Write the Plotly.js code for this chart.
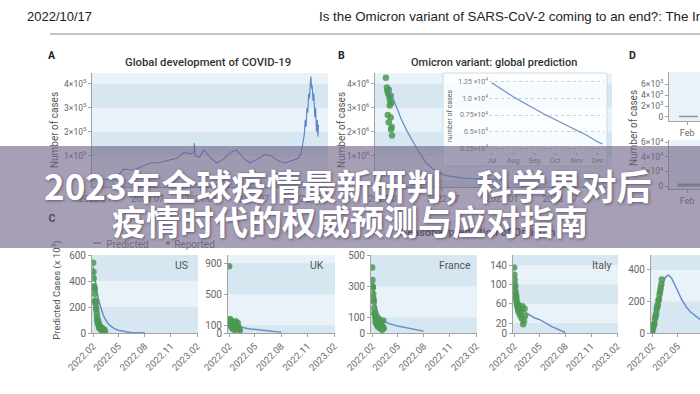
<!DOCTYPE html>
<html><head><meta charset="utf-8">
<script src="https://cdn.plot.ly/plotly-3.0.1.min.js"></script>
<style>html,body{margin:0;padding:0;background:#fff;overflow:hidden}#chart{width:700px;height:394px}</style>
</head><body><div id="chart"></div>
<script>
// ---------- DATA ----------
const globalDates = ['2020-01-15','2020-02-15','2020-03-15','2020-04-10','2020-05-10','2020-06-10','2020-07-10','2020-08-10','2020-09-10','2020-10-10','2020-11-05','2020-11-25','2020-12-08','2020-12-10','2020-12-12','2020-12-28','2021-01-12','2021-02-05','2021-02-25','2021-03-20','2021-04-15','2021-05-05','2021-05-30','2021-06-20','2021-07-15','2021-08-10','2021-09-01','2021-09-25','2021-10-20','2021-11-15','2021-12-05','2021-12-15','2021-12-22','2021-12-26','2021-12-29','2022-01-01','2022-01-04','2022-01-07','2022-01-10','2022-01-13','2022-01-16','2022-01-18','2022-01-20','2022-01-22','2022-01-25','2022-01-28','2022-01-31','2022-02-03','2022-02-06','2022-02-09','2022-02-11','2022-02-13'];
const globalCases = [500,2500,12000,45000,40000,55000,70000,72000,80000,90000,115000,108000,112000,152000,100000,95000,125000,90000,70000,85000,115000,125000,90000,70000,85000,105000,100000,80000,70000,80000,90000,110000,160000,190000,250000,220000,300000,280000,360000,340000,410000,430000,380000,395000,330000,360000,260000,300000,200000,250000,180000,230000];
const globalTickDates = ['2020-01-01','2020-07-01','2021-01-01','2021-07-01','2022-01-01'];
const globalTickText = ['2020.01','2020.07','2021.01','2021.07','2022.01'];
const casesTickVals5 = [100000,200000,300000,400000];
const casesTickText5 = ['1×10<sup>5</sup>','2×10<sup>5</sup>','3×10<sup>5</sup>','4×10<sup>5</sup>'];

const omiRepDates = ['2022-01-04','2022-01-07','2022-01-09','2022-01-10','2022-01-11','2022-01-13','2022-01-13','2022-01-15','2022-01-16','2022-01-17','2022-01-19','2022-01-19','2022-01-20','2022-01-21','2022-01-22','2022-01-23'];
const omiRep = [4250000,3850000,3700000,2700000,3600000,3750000,2400000,3450000,3100000,3300000,3500000,2600000,2100000,3200000,2200000,1850000];
const omiPredDates = ['2022-01-16','2022-02-01','2022-02-20','2022-03-10','2022-03-25','2022-04-15','2022-05-10','2022-06-10','2022-07-10','2022-09-01','2022-11-01','2022-12-31'];
const omiPred = [3750000,3200000,2550000,2050000,1700000,1200000,700000,350000,170000,70000,30000,15000];
const omiTickDates = ['2022-01-01','2022-07-01','2023-01-01','2023-07-01'];
const omiTickText = ['2022.01','2022.07','2023.01','2023. 07'];
const casesTickVals6 = [1000000,2000000,3000000,4000000];
const casesTickText6 = ['1×10<sup>6</sup>','2×10<sup>6</sup>','3×10<sup>6</sup>','4×10<sup>6</sup>'];

const insetDates = ['2022-07-01','2022-07-15','2022-08-01','2022-08-15','2022-09-01','2022-09-15','2022-10-01','2022-10-15','2022-11-01','2022-11-15','2022-12-01','2022-12-08'];
const insetCases = [12300,11300,10200,9400,8400,7600,6800,6100,5200,4500,3500,3200];
const insetTickDates = ['2022-07-01','2022-08-01','2022-09-01','2022-10-01','2022-11-01','2022-12-01'];
const insetTickText = ['Jul','Aug','Sep','Oct','Nov','Dec'];
const insetTickVals = [2500,5000,7500,10000,12500];
const insetTickText4 = ['0.25×10<sup>4</sup>','0.5×10<sup>4</sup>','0.75×10<sup>4</sup>','1.0 ×10<sup>4</sup>','1.25 ×10<sup>4</sup>'];

const dTopDates = ['2022-01-20','2022-01-27','2022-02-03','2022-02-10','2022-02-17'];
const dTopCases = [80,120,150,110,90];
const dBotDates = ['2022-01-18','2022-01-25','2022-02-01','2022-02-08','2022-02-15','2022-02-20'];
const dBotCases = [1500,1600,1400,1500,1300,1400];
const dTickDates = ['2022-02-01'];
const dTickText = ['Feb'];
const dTopTickVals = [0,2000,4000,6000];
const dTopTickText = ['0','2×10<sup>3</sup>','4×10<sup>3</sup>','6×10<sup>3</sup>'];
const dBotTickVals = [0,20000,40000,60000];
const dBotTickText = ['0','2×10<sup>4</sup>','4×10<sup>4</sup>','6×10<sup>4</sup>'];

const countryTickDates = ['2022-02-01','2022-05-01','2022-08-01','2022-11-01','2023-02-01'];
const countryTickText = ['2022.02','2022.05','2022.08','2022.11','2023.02'];

const usPredDates = ['2022-02-01','2022-02-08','2022-02-15','2022-02-22','2022-03-01','2022-03-08','2022-03-15','2022-03-22','2022-04-01','2022-04-15','2022-05-01','2022-05-15','2022-06-01','2022-06-15','2022-07-01','2022-08-01'];
const usPred = [510,400,310,240,185,140,108,82,58,36,21,13,7,4,2,1];
const usRepDates = ['2022-02-01','2022-02-02','2022-02-03','2022-02-04','2022-02-05','2022-02-06','2022-02-07','2022-02-08','2022-02-09','2022-02-10','2022-02-11','2022-02-12','2022-02-14','2022-02-15','2022-02-16','2022-02-17','2022-02-18','2022-02-20','2022-02-21','2022-02-22','2022-02-24','2022-02-25','2022-02-27','2022-03-01','2022-03-03','2022-03-05','2022-03-08','2022-03-10','2022-03-12','2022-03-15'];
const usRep = [540,470,420,360,350,340,300,250,230,240,200,180,150,120,90,100,70,80,60,40,55,35,45,25,40,20,30,15,25,10];
const usTicks = [0,200,400,600];

const ukPredDates = ['2022-02-01','2022-02-15','2022-03-01','2022-03-15','2022-04-01','2022-04-15','2022-05-01','2022-05-15','2022-06-01','2022-06-15','2022-07-01','2022-07-15','2022-08-01'];
const ukPred = [165,120,92,75,62,53,45,38,31,26,21,16,12];
const ukRepDates = ['2022-02-01','2022-02-03','2022-02-04','2022-02-05','2022-02-06','2022-02-07','2022-02-08','2022-02-09','2022-02-10','2022-02-11','2022-02-12','2022-02-14','2022-02-15','2022-02-16','2022-02-18','2022-02-20','2022-02-22','2022-02-24','2022-02-25','2022-02-27','2022-03-01','2022-03-03','2022-03-05','2022-03-08','2022-03-10'];
const ukRep = [860,150,180,120,100,160,90,130,70,110,60,80,140,50,90,40,70,150,120,100,60,130,80,50,30];
const ukTicks = [0,100,500,900];

const frPredDates = ['2022-02-01','2022-02-08','2022-02-15','2022-02-22','2022-03-01','2022-03-15','2022-04-01','2022-05-01','2022-06-01','2022-07-01','2022-08-01'];
const frPred = [330,230,165,125,100,75,60,45,33,22,12];
const frRepDates = ['2022-02-01','2022-02-02','2022-02-03','2022-02-04','2022-02-05','2022-02-06','2022-02-07','2022-02-08','2022-02-09','2022-02-10','2022-02-12','2022-02-13','2022-02-14','2022-02-16','2022-02-17','2022-02-19','2022-02-20','2022-02-22','2022-02-24','2022-02-26','2022-02-28','2022-03-02','2022-03-05','2022-03-08','2022-03-10','2022-03-12','2022-03-14'];
const frRep = [420,340,300,290,250,220,200,160,130,120,100,70,90,60,100,50,80,40,90,60,30,70,50,20,40,80,30];
const frTicks = [0,100,300,500];

const itPredDates = ['2022-02-01','2022-02-15','2022-03-01','2022-03-15','2022-04-01','2022-04-15','2022-05-01','2022-05-15','2022-06-01','2022-06-15','2022-07-01','2022-07-15','2022-08-01'];
const itPred = [100,65,50,42,36,31,28,24,18,13,9,5,1];
const itRepDates = ['2022-02-01','2022-02-02','2022-02-03','2022-02-04','2022-02-05','2022-02-06','2022-02-07','2022-02-08','2022-02-09','2022-02-10','2022-02-11','2022-02-12','2022-02-14','2022-02-15','2022-02-16','2022-02-18','2022-02-20','2022-02-22','2022-02-24','2022-02-26','2022-02-28','2022-03-02','2022-03-05','2022-03-08','2022-03-10','2022-03-12'];
const itRep = [135,120,110,100,95,85,80,70,75,65,60,55,60,50,45,55,40,50,35,45,30,55,18,25,50,35];
const itTicks = [0,20,60,100,140];

const c5PredDates = ['2022-02-01','2022-02-10','2022-02-20','2022-03-01','2022-03-10','2022-03-20','2022-03-30','2022-04-10','2022-04-20','2022-05-01','2022-05-15','2022-06-01','2022-06-15','2022-07-01','2022-07-15','2022-08-01'];
const c5Pred = [8,60,150,240,310,355,368,350,315,270,215,165,135,110,92,75];
const c5RepDates = ['2022-02-01','2022-02-03','2022-02-05','2022-02-07','2022-02-09','2022-02-11','2022-02-13','2022-02-15','2022-02-17','2022-02-19','2022-02-21','2022-02-23','2022-02-25','2022-02-27','2022-03-01','2022-03-03','2022-03-05','2022-03-07'];
const c5Rep = [5,20,35,50,60,90,105,120,150,165,180,205,215,245,265,285,310,340];
const c5Ticks = [0,200,400];

const countryNames = ['US','UK','France','Italy'];

// ---------- STYLE / LAYOUT ----------
const W = 700, H = 394;
const fx = p => p / W;
const fy = p => 1 - p / H;
const xd = (a, b) => [fx(a), fx(b)];
const yd = (top, bot) => [fy(bot), fy(top)];
const F = 'Roboto, "Liberation Sans", Arial, sans-serif';
const LIGHT = '#e9f2f8', DARK = '#d6e7f1';
const BLUE = '#6a8fc8', GREEN = 'rgba(76,152,82,0.85)';

function axis(o) {
  return Object.assign({showgrid:false, zeroline:false, showline:true, linecolor:'#a3a3a3', linewidth:1,
    ticks:'outside', ticklen:3, tickcolor:'#a3a3a3', tickfont:{family:F, size:9, color:'#6a6a6a'},
    fixedrange:true, tickmode:'array'}, o);
}

const layout = {width:W, height:H, margin:{l:0,r:0,t:0,b:0}, paper_bgcolor:'#ffffff',
  plot_bgcolor:'rgba(0,0,0,0)', showlegend:false, font:{family:F, color:'#555'}, shapes:[], annotations:[]};

// panel definitions (pixel geometry)
const panels = [
  {id:'', x:[92,328], y:[73,187], xr:['2019-12-21','2022-03-18'], yr:[-30000,445000], xtv:globalTickDates, xtt:globalTickText, ytv:casesTickVals5, ytt:casesTickText5, bands:[-30000,0,100000,200000,300000,400000,445000], fs:8.5},
  {id:'2', x:[375,612], y:[73,187], xr:['2021-12-01','2023-12-10'], yr:[-300000,4450000], xtv:omiTickDates, xtt:omiTickText, ytv:casesTickVals6, ytt:casesTickText6, bands:[-300000,0,1000000,2000000,3000000,4000000,4450000], fs:8.5},
  {id:'4', x:[669,700], y:[72,121], xr:['2022-01-05','2022-02-20'], yr:[-730,8200], xtv:dTickDates, xtt:dTickText, ytv:dTopTickVals, ytt:dTopTickText, bands:null, fs:8.5},
  {id:'5', x:[669,700], y:[140,189], xr:['2022-01-05','2022-02-20'], yr:[-4000,63000], xtv:dTickDates, xtt:dTickText, ytv:dBotTickVals, ytt:dBotTickText, bands:null, fs:8.5},
  {id:'6', x:[92,198], y:[255,333], xr:['2022-01-28','2023-02-04'], yr:[0,600], xtv:countryTickDates, xtt:countryTickText, ytv:usTicks, ytt:usTicks.map(String), bands:[0,200,400,600], fs:10, rot:true},
  {id:'7', x:[228,335], y:[255,333], xr:['2022-01-28','2023-02-04'], yr:[0,1005], xtv:countryTickDates, xtt:countryTickText, ytv:ukTicks, ytt:ukTicks.map(String), bands:[0,100,500,900,1005], fs:10, rot:true},
  {id:'8', x:[371,477], y:[255,333], xr:['2022-01-28','2023-02-04'], yr:[0,500], xtv:countryTickDates, xtt:countryTickText, ytv:frTicks, ytt:frTicks.map(String), bands:[0,100,300,500], fs:10, rot:true},
  {id:'9', x:[513,618], y:[255,333], xr:['2022-01-28','2023-02-04'], yr:[0,161], xtv:countryTickDates, xtt:countryTickText, ytv:itTicks, ytt:itTicks.map(String), bands:[0,20,60,100,140,161], fs:10, rot:true},
  {id:'10', x:[651,700], y:[255,333], xr:['2022-01-28','2022-07-19'], yr:[0,495], xtv:countryTickDates, xtt:countryTickText, ytv:c5Ticks, ytt:c5Ticks.map(String), bands:[0,200,400,495], fs:10, rot:true}
];

panels.forEach(p => {
  const xk = 'xaxis' + p.id, yk = 'yaxis' + p.id;
  layout[xk] = axis({domain:xd(p.x[0], p.x[1]), anchor:'y'+p.id, type:'date', range:p.xr, tickvals:p.xtv, ticktext:p.xtt,
    tickangle: p.rot ? -45 : 0, tickfont:{family:F, size: p.rot ? 9.5 : 9, color:'#6a6a6a'}});
  layout[yk] = axis({domain:yd(p.y[0], p.y[1]), anchor:'x'+p.id, range:p.yr, tickvals:p.ytv, ticktext:p.ytt,
    tickfont:{family:F, size:p.fs, color:'#666'}});
  layout.shapes.push({type:'rect', layer:'below', xref:'paper', yref:'paper', x0:fx(p.x[0]), x1:fx(p.x[1]), y0:fy(p.y[1]), y1:fy(p.y[0]), fillcolor:LIGHT, line:{width:0}});
  if (p.bands) {
    for (let i = 0; i < p.bands.length - 1; i++) {
      if (i % 2 === 0) layout.shapes.push({type:'rect', layer:'below', xref:'paper', yref:'y'+p.id, x0:fx(p.x[0]), x1:fx(p.x[1]), y0:p.bands[i], y1:p.bands[i+1], fillcolor:DARK, line:{width:0}});
    }
  }
});

// inset box + inset axes
layout.shapes.push({type:'rect', layer:'below', xref:'paper', yref:'paper', x0:fx(443), x1:fx(607), y0:fy(166), y1:fy(73), fillcolor:'rgba(255,255,255,0.82)', line:{color:'#c9dde8', width:1}});
layout.xaxis3 = axis({domain:xd(489,604), anchor:'y3', type:'date', range:['2022-06-27','2022-12-10'], tickvals:insetTickDates, ticktext:insetTickText, showline:false, ticklen:2, tickfont:{family:F, size:7, color:'#7a7a7a'}});
layout.yaxis3 = axis({domain:yd(78,152), anchor:'x3', range:[2000,13000], tickvals:insetTickVals, ticktext:insetTickText4, showline:false, ticks:'', showgrid:true, gridcolor:'#bcd3e2', griddash:'dot', gridwidth:1, tickfont:{family:F, size:7, color:'#7a7a7a'}});

// ---------- TRACES ----------
const line = (x, y, id, color, w) => ({type:'scatter', mode:'lines', x, y, xaxis:'x'+id, yaxis:'y'+id, line:{color, width:w}, hoverinfo:'skip'});
const dots = (x, y, id, s) => ({type:'scatter', mode:'markers', x, y, xaxis:'x'+id, yaxis:'y'+id, marker:{color:GREEN, size:s, line:{width:0}}, hoverinfo:'skip'});

const data = [
  line(globalDates, globalCases, '', '#5b84c4', 1.1),
  dots(omiRepDates, omiRep, '2', 6.5),
  line(omiPredDates, omiPred, '2', BLUE, 1.3),
  line(insetDates, insetCases, '3', BLUE, 1.2),
  line(dTopDates, dTopCases, '4', '#7fa38b', 1.5),
  line(dBotDates, dBotCases, '5', '#7fa38b', 3),
  line(usPredDates, usPred, '6', BLUE, 1.5), dots(usRepDates, usRep, '6', 6.5),
  line(ukPredDates, ukPred, '7', BLUE, 1.5), dots(ukRepDates, ukRep, '7', 6.5),
  line(frPredDates, frPred, '8', BLUE, 1.5), dots(frRepDates, frRep, '8', 6.5),
  line(itPredDates, itPred, '9', BLUE, 1.5), dots(itRepDates, itRep, '9', 6.5),
  line(c5PredDates, c5Pred, '10', BLUE, 1.5), dots(c5RepDates, c5Rep, '10', 6.5)
];

// ---------- TEXT ----------
const ann = (text, x, y, o) => Object.assign({text, x:fx(x), y:fy(y), xref:'paper', yref:'paper', showarrow:false, xanchor:'center', yanchor:'middle', font:{family:F, size:10, color:'#555'}}, o);
const A = layout.annotations;
const HF = '"Liberation Sans", Arial, sans-serif';
A.push(ann('2022/10/17', 25, 17, {xanchor:'left', font:{family:HF, size:13, color:'#222'}}));
A.push(ann('Is the Omicron variant of SARS-CoV-2 coming to an end?: The Ir', 317, 17, {xanchor:'left', font:{family:HF, size:13.3, color:'#222'}}));
A.push(ann('A', 52, 55, {font:{family:F, size:10.5, color:'#222', weight:'bold'}}));
A.push(ann('B', 341, 55, {font:{family:F, size:10.5, color:'#222', weight:'bold'}}));
A.push(ann('D', 632, 55, {font:{family:F, size:10.5, color:'#222', weight:'bold'}}));
A.push(ann('Global development of COVID-19', 208, 62, {font:{family:F, size:11.3, color:'#333', weight:500}}));
A.push(ann('Omicron variant: global prediction', 494, 62, {font:{family:F, size:11, color:'#333', weight:500}}));
A.push(ann('number of cases', 450, 116, {textangle:-90, font:{family:F, size:7, color:'#666'}}));
const countryLabelX = [190, 326, 473, 614];
countryNames.forEach((n, i) => A.push(ann(n, countryLabelX[i], 265, {xanchor:'right', font:{family:F, size:10.5, color:'#555'}})));

// texts lying under the banner: drawn as shape labels before the banner
const S = layout.shapes;
const lbl = (text, cx, cy, o) => ({type:'rect', layer:'above', xref:'paper', yref:'paper', x0:fx(cx-1), x1:fx(cx+1), y0:fy(cy+1), y1:fy(cy-1), fillcolor:'rgba(0,0,0,0)', line:{width:0},
  label:Object.assign({text, textposition:'middle center', padding:0, font:{family:F, size:10, color:'#555'}}, o)});
S.push(lbl('Number of cases', 53, 130, {textangle:-90}));
S.push(lbl('Number of cases', 340, 130, {textangle:-90}));
S.push(lbl('Number of cases', 632, 128, {textangle:-90}));
S.push(lbl('Predicted Cases (x 10<sup>3</sup>)', 57, 290, {textangle:-90, font:{family:F, size:9.5, color:'#555'}}));
S.push(lbl('C', 52, 218, {font:{family:F, size:10.5, color:'#222', weight:'bold'}}));
S.push(lbl('Seasonal prediction of Omicron', 478, 231, {font:{family:F, size:11, color:'#333', weight:500}}));
S.push({type:'line', layer:'above', xref:'paper', yref:'paper', x0:fx(93), x1:fx(101), y0:fy(243), y1:fy(243), line:{color:BLUE, width:1.5}});
S.push(lbl('Predicted', 127.5, 243, {font:{family:F, size:10, color:'#777'}}));
S.push({type:'circle', layer:'above', xref:'paper', yref:'paper', x0:fx(166), x1:fx(170), y0:fy(245), y1:fy(241), fillcolor:GREEN, line:{width:0}});
S.push(lbl('Reported', 194.5, 243, {font:{family:F, size:10, color:'#777'}}));

// header rule
S.push({type:'line', layer:'above', xref:'paper', yref:'paper', x0:fx(50), x1:1, y0:fy(34), y1:fy(34), line:{color:'#c4c4c4', width:2}});
// banner
S.push({type:'rect', layer:'above', xref:'paper', yref:'paper', x0:0, x1:1, y0:fy(248), y1:fy(146), fillcolor:'rgba(112,100,136,0.62)', line:{width:0}});

const CJK = '"Noto Sans CJK SC", "Noto Sans", sans-serif';
A.push(ann('2023年全球疫情最新研判，科学界对后', 348, 184, {font:{family:CJK, size:35, color:'#ffffff', weight:'bold', shadow:'1px 1px 3px rgba(50,40,70,0.6)'}}));
A.push(ann('疫情时代的权威预测与应对指南', 350, 221, {font:{family:CJK, size:34, color:'#ffffff', weight:'bold', shadow:'1px 1px 3px rgba(50,40,70,0.6)'}}));

Plotly.newPlot('chart', data, layout, {staticPlot:true, displayModeBar:false});
</script></body></html>
